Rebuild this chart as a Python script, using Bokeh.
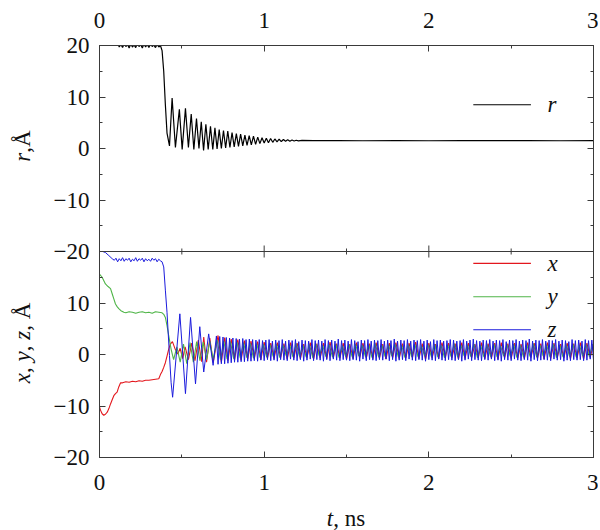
import numpy as np
from bokeh.plotting import figure
from bokeh.models import (Range1d, LinearAxis, FixedTicker, Label, Span, Div)
from bokeh.layouts import row, column
from bokeh.embed import file_html
from bokeh.resources import INLINE

FONT = "'Liberation Serif', 'DejaVu Serif', serif"
FSIZE = "23px"
AXC = "#3a3a3a"
TXT = "#111111"
RED, GREEN, BLUE = "#e3171d", "#4fb548", "#1b1bdc"

# ---------------- ticks ----------------
t_ticks = [0, 1, 2, 3]
t_minor = [0.5, 1.5, 2.5]
t_tick_labels = ["0", "1", "2", "3"]
panel_ticks = [-20, -10, 0, 10, 20]
panel_minor = [-15, -5, 5, 15]
r_tick_labels = ["\u221220", "\u221210", "0", "10", "20"]
xyz_tick_labels = ["\u221220", "\u221210", "0", "10", ""]

# ---------------- legend keys (t-span of the key line, row value) ----------------
key_t = [2.27, 2.62]
key_label_t = 2.72
r_key_row = 8.5
xyz_key_names = ["x", "y", "z"]
xyz_key_rows = [17.7, 11.2, 4.8]

# ---------------- r(t) ----------------
r_t_lead = [0.00, 0.03, 0.06, 0.09, 0.105, 0.115]
r_lead = [27.0, 25.5, 23.5, 21.5, 20.6, 20.1]
r_plat = [19.7, 20.2, 19.6, 20.3, 19.8, 20.2, 19.5, 20.3, 19.7, 20.1, 19.6, 20.4, 19.8,
          20.2, 19.5, 20.3, 19.7, 20.2, 19.6, 20.3, 19.8, 20.1, 19.6, 20.2, 19.7, 20.0]
r_t_drop = [0.38, 0.39, 0.40, 0.41]
r_drop = [19.0, 15.0, 8.5, 3.0]
r_t_osc = [0.425, 0.441, 0.461, 0.485, 0.502, 0.522, 0.540, 0.557, 0.573, 0.589, 0.604,
           0.618, 0.632, 0.646, 0.660, 0.674, 0.688, 0.701, 0.714, 0.727, 0.740, 0.753,
           0.766, 0.779, 0.792, 0.805, 0.818, 0.831, 0.844, 0.857, 0.870, 0.883, 0.896,
           0.909, 0.922, 0.935, 0.948, 0.961, 0.974, 0.987, 1.000, 1.013, 1.026, 1.039,
           1.052, 1.065, 1.078, 1.091, 1.104, 1.117, 1.130, 1.143, 1.156, 1.169, 1.182,
           1.195, 1.208]
r_osc = [0.5, 9.8, 0.2, 7.6, -0.2, 7.8, 0.2, 6.7, -0.2, 5.8, 0.0, 5.2, -0.4, 4.7, -0.2,
         4.3, -0.2, 4.0, -0.1, 3.7, 0.0, 3.5, 0.1, 3.4, 0.2, 3.1, 0.3, 2.9, 0.4, 2.8, 0.5,
         2.6, 0.6, 2.5, 0.7, 2.4, 0.8, 2.2, 0.95, 2.1, 1.05, 2.0, 1.1, 1.95, 1.2, 1.85, 1.3,
         1.8, 1.35, 1.75, 1.4, 1.7, 1.42, 1.65, 1.45, 1.6, 1.48]
r_t_tail = [1.23, 1.30, 1.45, 1.6, 1.8, 2.0, 2.2, 2.4, 2.6, 2.8, 3.0]
r_tail = [1.58, 1.52, 1.55, 1.5, 1.55, 1.5, 1.55, 1.52, 1.55, 1.5, 1.53]

# ---------------- x(t) ----------------
x_t_early = [0.0, 0.006, 0.016, 0.026, 0.036, 0.047, 0.057, 0.067, 0.077, 0.087, 0.097,
             0.107, 0.117, 0.128]
x_early = [-10.2, -10.8, -11.5, -11.8, -11.6, -11.2, -10.5, -9.6, -8.8, -8.0, -7.6, -7.3,
           -6.3, -5.5]
x_plat = [-5.5, -5.3, -5.4, -5.2, -5.3, -5.1, -5.2, -5.0, -5.0, -4.9, -4.8, -4.7]
x_t_rise = [0.37, 0.38, 0.39, 0.40, 0.41, 0.42, 0.43, 0.443]
x_rise = [-3.9, -3.3, -2.5, -1.6, -0.3, 1.0, 2.0, 2.5]
x_t_osc = [0.46, 0.475, 0.49, 0.505, 0.52, 0.54, 0.56, 0.58, 0.60, 0.62, 0.633, 0.65,
           0.67, 0.69]
x_osc = [1.0, 0.1, 1.2, -0.8, 1.5, -1.0, 2.2, -1.2, 2.8, -1.4, 3.4, -1.5, 3.2, -1.6]
x_band = [3.7, -1.5, 3.3, -1.2, 3.0, -1.0, 2.9, -1.1, 2.7, -0.9, 2.6, -0.8, 2.5, -1.0, 2.4,
          -0.7, 2.2, -0.8, 2.3, -0.6, 2.1, -0.9, 2.3, -0.7, 2.2,
          -0.8, 2.0, -0.6, 2.3, -0.9, 2.1, -0.7, 2.2, -0.8, 2.4,
          -0.6, 2.1, -0.7, 2.2, -0.9, 2.0, -0.8, 2.3, -0.6, 2.2,
          -0.7, 2.1, -0.8, 2.3, -0.7, 2.0, -0.9, 2.2, -0.6, 2.3,
          -0.8, 2.1, -0.7, 2.2, -0.6, 2.4, -0.8, 2.1, -0.9, 2.2,
          -0.7, 2.0, -0.8, 2.3, -0.6, 2.2, -0.7, 2.1, -0.9, 2.3,
          -0.8, 2.2, -0.6, 2.0, -0.7, 2.3, -0.8, 2.1, -0.7, 2.2,
          -0.9, 2.3, -0.6, 2.1, -0.8, 2.2, -0.7, 2.0, -0.8, 2.3,
          -0.6, 2.2, -0.7, 2.1, -0.9, 2.3, -0.8, 2.2, -0.6, 2.0,
          -0.7, 2.2, -0.8, 2.1, -0.7, 2.3, -0.9, 2.2, -0.6, 2.1]

# ---------------- y(t) ----------------
y_t_early = [0.0, 0.016, 0.036, 0.052, 0.067, 0.077, 0.087, 0.097, 0.107, 0.117, 0.13,
             0.148]
y_early = [15.6, 15.0, 13.7, 13.2, 12.8, 11.8, 10.8, 9.8, 9.3, 8.9, 8.5, 8.2]
y_plat = [8.1, 8.3, 8.2, 8.0, 8.2, 8.3, 8.1, 8.2, 8.0, 8.3, 8.2, 8.1]
y_t_drop = [0.39, 0.40, 0.41, 0.42, 0.435]
y_drop = [7.8, 7.2, 5.6, 3.7, 1.0]
y_t_osc = [0.45, 0.47, 0.49, 0.51, 0.53, 0.55, 0.57, 0.59, 0.61, 0.63, 0.65, 0.67, 0.69]
y_osc = [-1.0, 1.5, -1.5, 2.0, -1.8, 2.3, -1.5, 2.5, -1.2, 2.4, -1.0, 2.6, -0.9]
y_band = [2.8, -1.0, 2.6, -0.9, 2.5, -0.8, 2.4, -0.7, 2.3, -0.6, 2.2, -0.7, 2.1, -0.6, 2.0,
          -0.5, 1.9, -0.4, 2.0, -0.6, 1.8, -0.3, 1.9, -0.5, 2.1,
          -0.4, 1.8, -0.5, 1.9, -0.6, 2.0, -0.3, 1.8, -0.4, 1.9,
          -0.5, 2.0, -0.6, 1.7, -0.4, 1.9, -0.5, 2.0, -0.3, 1.8,
          -0.4, 1.9, -0.6, 2.1, -0.5, 1.8, -0.4, 1.9, -0.3, 2.0,
          -0.5, 1.8, -0.6, 1.9, -0.4, 2.0, -0.5, 1.7, -0.3, 1.9,
          -0.4, 2.0, -0.5, 1.8, -0.6, 1.9, -0.4, 2.1, -0.5, 1.8,
          -0.3, 1.9, -0.4, 2.0, -0.6, 1.8, -0.5, 1.9, -0.4, 2.0,
          -0.5, 1.7, -0.3, 1.9, -0.4, 2.0, -0.6, 1.8, -0.5, 1.9,
          -0.4, 2.1, -0.5, 1.8, -0.3, 1.9, -0.4, 2.0, -0.6, 1.8,
          -0.5, 1.9, -0.4, 2.0, -0.5, 1.8, -0.3, 1.9, -0.4, 2.0]

# ---------------- z(t) ----------------
z_t_early = [0.0, 0.02, 0.036, 0.057, 0.077]
z_early = [20.0, 20.0, 19.8, 19.2, 18.6]
z_plat = [18.3, 18.7, 18.0, 18.6, 18.2, 18.8, 18.1, 18.6, 18.3, 18.7, 18.0, 18.5, 18.2,
          18.8, 18.1, 18.6, 18.3, 18.7, 18.0, 18.6, 18.2, 18.5, 18.1, 18.7, 18.3, 18.6,
          18.0, 18.5, 18.2]
z_t_drop = [0.38, 0.39, 0.40, 0.41, 0.425, 0.435, 0.444]
z_drop = [18.0, 17.0, 12.5, 8.2, -0.2, -5.5, -8.3]
z_t_osc = [0.488, 0.522, 0.553, 0.583, 0.609, 0.633, 0.663, 0.690]
z_osc = [7.9, -7.6, 7.2, -5.7, 5.4, -3.4, 4.0, -2.1]
z_band = [3.6, -1.9, 3.5, -1.8, 3.4, -1.8, 3.3, -1.7, 3.2, -1.6, 3.2, -1.5, 3.1, -1.5, 3.0, -1.4, 3.1, -1.4, 2.9, -1.3,
          3.0, -1.3, 2.9, -1.2, 2.8, -1.3, 2.9, -1.1, 2.7, -1.2, 2.8, -1.0, 2.9, -1.2, 2.6, -1.1, 2.8, -1.3, 2.7, -1.0,
          2.9, -1.1, 2.6, -1.2, 2.8, -0.9, 2.7, -1.1, 2.9, -1.2, 2.5, -1.0, 2.8, -1.3, 2.7, -1.1, 2.6, -0.9, 2.9, -1.2,
          2.7, -1.0, 2.8, -1.1, 2.6, -1.3, 2.9, -1.0, 2.7, -1.2, 2.8, -0.9, 2.6, -1.1, 3.0, -1.2, 2.7, -1.0, 2.8, -1.1,
          2.6, -1.2, 2.9, -1.0, 2.7, -1.1, 2.5, -1.3, 2.8, -0.9, 2.7, -1.2, 2.9, -1.0, 2.6, -1.1, 2.8, -1.2, 2.7, -1.0,
          2.9, -1.1, 2.6, -0.9, 2.8, -1.2, 2.7, -1.0, 3.0, -1.3, 2.6, -1.1, 2.8, -1.0, 2.7, -1.2, 2.9, -0.9, 2.6, -1.1,
          2.8, -1.2, 2.7, -1.0, 2.9, -1.1, 2.6, -1.3, 2.8, -1.0, 2.5, -1.1, 2.9, -1.2, 2.7, -0.9, 2.8, -1.1, 2.6, -1.2,
          2.7, -1.0, 2.9, -1.1, 2.8, -1.2, 2.6, -1.0, 2.7, -1.3, 2.9, -1.1, 2.6, -0.9, 2.8, -1.2, 3.0, -1.0, 2.7, -1.1,
          2.6, -1.2, 2.8, -1.0, 2.7, -1.1, 2.9, -0.9, 2.6, -1.2, 2.8, -1.1, 2.7, -1.3, 2.9, -1.0, 2.5, -1.1, 2.8, -1.2,
          2.7, -0.9, 2.9, -1.1, 2.6, -1.2, 2.8, -1.0, 2.7, -1.1, 3.0, -1.3, 2.6, -1.0, 2.8, -1.2, 2.7, -1.1, 2.9, -1.0,
          2.6, -1.1, 2.8, -1.2, 2.7, -0.9, 2.9, -1.1, 2.6, -1.0, 2.8, -1.3, 2.7, -1.1, 2.5, -1.2, 2.9, -1.0, 2.7, -1.1,
          2.8, -1.0, 2.6, -1.2, 2.9, -1.1, 2.7, -0.9, 2.8, -1.1]


def grid(start, step, vals):
    return list(np.round(start + step * np.arange(len(vals)), 4))


r_t = r_t_lead + grid(0.12, 0.01, r_plat) + r_t_drop + r_t_osc + r_t_tail
r_v = r_lead + r_plat + r_drop + r_osc + r_tail
x_t = x_t_early + grid(0.14, 0.02, x_plat) + x_t_rise + x_t_osc + grid(0.72, 0.02, x_band)
x_v = x_early + x_plat + x_rise + x_osc + x_band
y_t = y_t_early + grid(0.16, 0.02, y_plat) + y_t_drop + y_t_osc + grid(0.715, 0.02, y_band)
y_v = y_early + y_plat + y_drop + y_osc + y_band
z_t = z_t_early + grid(0.09, 0.01, z_plat) + z_t_drop + z_t_osc + grid(0.71, 0.01, z_band)
z_v = z_early + z_plat + z_drop + z_osc + z_band

# ---------------- layout sizes ----------------
LEFT_W = 50          # column holding the rotated y titles
FIG_W, FIG_H = 548, 502
BORDER_TOP, BORDER_BOTTOM = 45, 45
BOTTOM_H = 27
FRAME_H = FIG_H - BORDER_TOP - BORDER_BOTTOM

# ---------------- figure: two stacked panels in one frame ----------------
SHIFT = 40  # lower panel range = upper panel range moved down by one panel
p = figure(width=FIG_W, height=FIG_H, x_range=Range1d(0, 3),
           y_range=Range1d(-20 - SHIFT, 20),
           output_backend="svg", toolbar_location=None,
           x_axis_location=None, y_axis_location=None,
           min_border_left=49, min_border_right=5,
           min_border_top=BORDER_TOP, min_border_bottom=BORDER_BOTTOM)
p.extra_y_ranges = {"xyz": Range1d(-20, 20 + SHIFT)}
p.outline_line_color = AXC
p.background_fill_color = "white"
p.border_fill_color = "white"
p.grid.grid_line_color = None
p.grid.visible = False

overrides = {}
for v, lab in zip(panel_ticks, r_tick_labels):
    overrides[v] = lab
for v, lab in zip(panel_ticks, xyz_tick_labels):
    if v - SHIFT not in overrides:
        overrides[v - SHIFT] = lab
y_major = sorted(overrides.keys())
y_minor = sorted(panel_minor + [m - SHIFT for m in panel_minor])


def style(ax, labels, standoff):
    ax.axis_line_color = AXC
    ax.major_tick_line_color = AXC
    ax.minor_tick_line_color = AXC
    ax.major_tick_in = 6
    ax.major_tick_out = 0
    ax.minor_tick_in = 3
    ax.minor_tick_out = 0
    ax.major_label_text_font = FONT
    ax.major_label_text_color = TXT
    ax.major_label_text_font_size = FSIZE if labels else "0px"
    ax.major_label_standoff = standoff


t_over = {t: lab for t, lab in zip(t_ticks, t_tick_labels)}
left = LinearAxis(ticker=FixedTicker(ticks=y_major, minor_ticks=y_minor),
                  major_label_overrides=overrides)
style(left, True, 10)
right = LinearAxis(ticker=FixedTicker(ticks=y_major, minor_ticks=y_minor),
                   major_label_overrides={v: "" for v in y_major})
style(right, False, 0)
above = LinearAxis(ticker=FixedTicker(ticks=t_ticks, minor_ticks=t_minor),
                   major_label_overrides=t_over)
style(above, True, 18)
below = LinearAxis(ticker=FixedTicker(ticks=t_ticks, minor_ticks=t_minor),
                   major_label_overrides=t_over)
style(below, True, 17)
p.add_layout(left, "left")
p.add_layout(right, "right")
p.add_layout(above, "above")
p.add_layout(below, "below")

# data
p.line(r_t, r_v, line_color="black", line_width=1.2)
p.line(x_t, x_v, line_color=RED, line_width=1.1, y_range_name="xyz")
p.line(y_t, y_v, line_color=GREEN, line_width=1.1, y_range_name="xyz")
p.line(z_t, z_v, line_color=BLUE, line_width=1.0, y_range_name="xyz")

# boundary between the panels, with its ticks
p.add_layout(Span(location=-20, dimension="width", line_color=AXC, line_width=1))
px_per_unit = FRAME_H / 80.0
mid_x = t_ticks[1:-1] + t_minor
mid_len = [6 / px_per_unit] * (len(t_ticks) - 2) + [3 / px_per_unit] * len(t_minor)
p.segment(x0=mid_x, x1=mid_x, y0=[-20 - l for l in mid_len], y1=[-20 + l for l in mid_len],
          line_color=AXC, line_width=1)

# ---------------- legends (key line + italic name) ----------------
p.segment(x0=[key_t[0]], x1=[key_t[1]], y0=[r_key_row], y1=[r_key_row],
          line_color="black", line_width=1.2)
p.add_layout(Label(x=key_label_t, y=r_key_row, text="r", text_font=FONT,
                   text_font_style="italic", text_font_size=FSIZE, text_color=TXT,
                   text_align="left", text_baseline="middle"))
p.segment(x0=[key_t[0]] * 3, x1=[key_t[1]] * 3, y0=xyz_key_rows, y1=xyz_key_rows,
          line_color=[RED, GREEN, BLUE], line_width=1.1, y_range_name="xyz")
for name, rv in zip(xyz_key_names, xyz_key_rows):
    p.add_layout(Label(x=key_label_t, y=rv, y_range_name="xyz", text=name, text_font=FONT,
                       text_font_style="italic", text_font_size=FSIZE, text_color=TXT,
                       text_align="left", text_baseline="middle"))

# ---------------- titles (HTML, so that italic and upright can mix) ----------------
css_font = "font-family:'Liberation Serif','DejaVu Serif',serif;font-size:%s;color:#111;" % FSIZE
rot = ("position:absolute;left:{x}px;top:{y}px;white-space:nowrap;line-height:1;"
       "transform:translate(-50%,-50%) rotate(-90deg);" + css_font)
left_html = (
    '<div style="position:relative;width:%dpx;height:%dpx;">' % (LEFT_W, FIG_H + BOTTOM_H)
    + '<div style="%s"><i>r</i>,\u00c5</div>' % rot.format(x=22, y=146)
    + '<div style="%s"><i>x</i>, <i>y</i>, <i>z</i>, \u00c5</div>' % rot.format(x=22, y=343)
    + '</div>'
)
left_div = Div(text=left_html, width=LEFT_W, height=FIG_H + BOTTOM_H, margin=0)

bottom_html = (
    '<div style="position:relative;width:%dpx;height:%dpx;">' % (FIG_W, BOTTOM_H)
    + '<div style="position:absolute;left:%dpx;top:%dpx;white-space:nowrap;line-height:1;'
      'transform:translate(-50%%,-50%%);%s"><i>t</i>, ns</div>' % (296, 16, css_font)
    + '</div>'
)
bottom_div = Div(text=bottom_html, width=FIG_W, height=BOTTOM_H, margin=0)

layout = row(left_div, column(p, bottom_div, spacing=0), spacing=0)

open("out.html", "w").write(file_html(layout, INLINE))
